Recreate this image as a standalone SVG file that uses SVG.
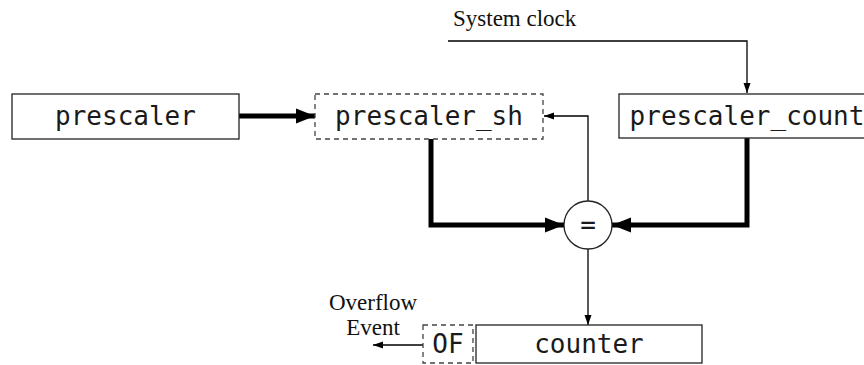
<svg xmlns="http://www.w3.org/2000/svg" width="864" height="365" viewBox="0 0 864 365">
<style>
.box{fill:#fff;stroke:#222;stroke-width:1.3}
.dash{fill:#fff;stroke:#444;stroke-width:1.3;stroke-dasharray:5,4}
.mono{font-family:"DejaVu Sans Mono",monospace;font-size:26px;fill:#1a1a1a;text-anchor:middle}
.serif{font-family:"Liberation Serif",serif;font-size:23px;fill:#111}
.thick{fill:none;stroke:#000;stroke-width:5}
.thin{fill:none;stroke:#000;stroke-width:1.3}
</style>
<defs>
<marker id="big" markerUnits="userSpaceOnUse" markerWidth="22" markerHeight="18" refX="19" refY="9" orient="auto">
<path d="M0,1.5 L19,9 L0,16.5 Z" fill="#000"/>
</marker>
<marker id="small" markerUnits="userSpaceOnUse" markerWidth="12" markerHeight="10" refX="10" refY="5" orient="auto">
<path d="M0,1.5 L10,5 L0,8.5 Z" fill="#000"/>
</marker>
</defs>
<g id="connectors">
<path class="thin" d="M448,41 H747 V93" marker-end="url(#small)"/>
<path class="thick" d="M239,116 H315" marker-end="url(#big)"/>
<path class="thin" d="M588,201 V116 H544" marker-end="url(#small)"/>
<path class="thick" d="M431,139 V225 H564" marker-end="url(#big)"/>
<path class="thick" d="M747,138 V225 H612" marker-end="url(#big)"/>
<path class="thin" d="M588,249 V325" marker-end="url(#small)"/>
<path class="thin" d="M423,345 H373" marker-end="url(#small)"/>
</g>
<g id="system-clock-label">
<text class="serif" x="453" y="26">System clock</text>
</g>
<g id="prescaler">
<rect class="box" x="12" y="94" width="227" height="45"/>
<text class="mono" x="125.5" y="125">prescaler</text>
</g>
<g id="prescaler_sh">
<rect class="dash" x="315" y="94" width="228" height="45"/>
<text class="mono" x="429" y="125">prescaler_sh</text>
</g>
<g id="prescaler_count">
<rect class="box" x="619" y="94" width="256" height="44"/>
<text class="mono" x="747" y="125">prescaler_count</text>
</g>
<g id="compare">
<circle cx="588" cy="225" r="24" fill="#fff" stroke="#222" stroke-width="1.3"/>
<text class="mono" x="588" y="234">=</text>
</g>
<g id="counter">
<rect class="box" x="476" y="325" width="226" height="38"/>
<text class="mono" x="589" y="353">counter</text>
</g>
<g id="OF">
<rect class="dash" x="423" y="325" width="50" height="38"/>
<text class="mono" x="448" y="353">OF</text>
</g>
<g id="overflow-label">
<text class="serif" x="373" y="310" text-anchor="middle">Overflow</text>
<text class="serif" x="373" y="335" text-anchor="middle">Event</text>
</g>
</svg>
